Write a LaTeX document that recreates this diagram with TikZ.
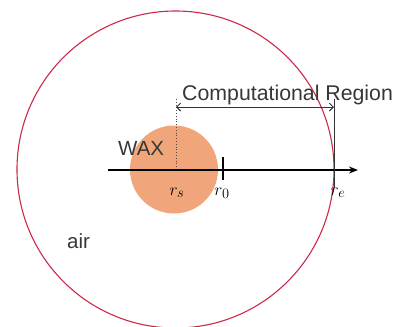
\documentclass[tikz,border=0pt]{standalone}
\usepackage{fontspec}
\setmainfont{Liberation Sans}
\usetikzlibrary{arrows.meta}
\definecolor{waxc}{RGB}{240,166,122}
\definecolor{ringc}{RGB}{205,40,70}
\definecolor{txtc}{RGB}{55,55,55}
\tikzset{
  lbl/.style={anchor=base west,inner sep=0pt,text=txtc,font=\fontsize{20.5}{22}\selectfont},
  mlbl/.style={anchor=base,inner sep=0pt,font=\fontsize{19}{20}\selectfont},
  thinline/.style={line width=0.9pt,draw=black!80}
}
\begin{document}
\begin{tikzpicture}[x=1pt,y=-1pt]
\useasboundingbox (0,0) rectangle (400,327);
\clip (0,0) rectangle (400,327);
% WAX disk
\fill[waxc] (174,169.5) circle (44);
% red outer circle
\draw[ringc,line width=1.1pt] (175.5,169.5) circle (158.5);
% coordinates
\coordinate (ax0) at (108,170);
\coordinate (ax1) at (358,170);
\coordinate (rsTop) at (176,99);
\coordinate (rsBot) at (176,170);
\coordinate (r0Top) at (223,157);
\coordinate (r0Bot) at (223,180);
\coordinate (reTop) at (334,99);
\coordinate (reBot) at (334,188);
\coordinate (dL) at (176,107);
\coordinate (dR) at (334,107);
% lines
\draw[black!70,dotted,line width=0.8pt] (rsTop) -- (rsBot);
\draw[line width=1.8pt,-{Stealth[length=9pt,width=7pt]}] (ax0) -- (ax1);
\draw[line width=1.6pt] (r0Top) -- (r0Bot);
\draw[thinline] (reTop) -- (reBot);
\draw[thinline,{Straight Barb[length=4pt]}-{Straight Barb[length=4pt]}] (dL) -- (dR);
% labels
\node[lbl,font=\fontsize{21.3}{22}\selectfont] (comp) at (182,100) {Computational Region};
\node[lbl] (wax) at (118,155) {WAX};
\node[lbl] (air) at (67,248) {air};
\node[mlbl] (rs) at (177,195) {$r_s$};
\node[mlbl] (r0) at (222,195) {$r_0$};
\node[mlbl] (re) at (338,195) {$r_e$};
\end{tikzpicture}
\end{document}
